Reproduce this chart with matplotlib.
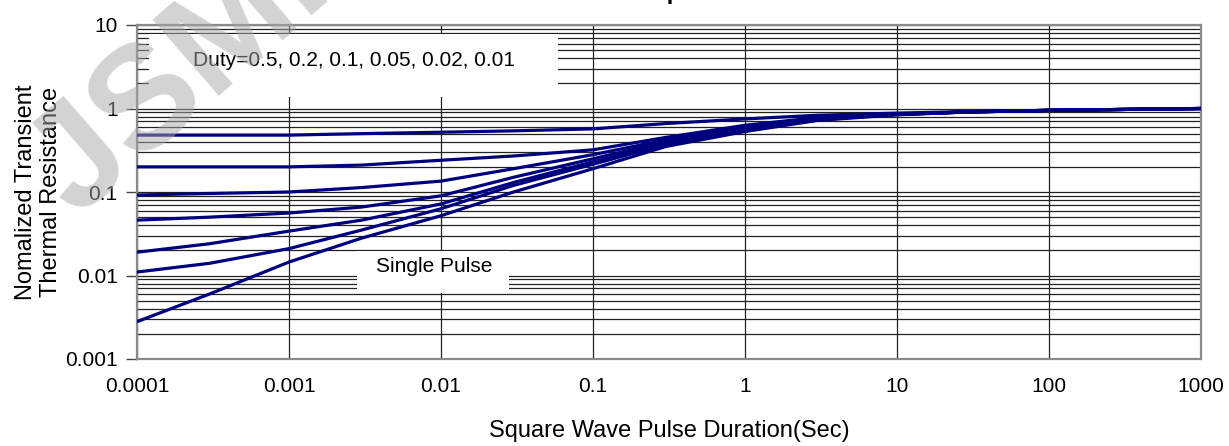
import matplotlib
matplotlib.use("Agg")
import matplotlib.pyplot as plt
from matplotlib.patches import Rectangle
import numpy as np

plt.rcParams['font.family'] = ['Liberation Sans', 'DejaVu Sans']

# pulse duration (s)
t = [1e-4, 3e-4, 1e-3, 3e-3, 1e-2, 3e-2, 0.1, 0.3, 1, 3, 10, 30, 100, 1000]

duty_05 = [0.48, 0.48, 0.48, 0.50, 0.52, 0.54, 0.57, 0.66, 0.75, 0.83, 0.88, 0.92, 0.95, 1.0]
duty_02 = [0.20, 0.20, 0.20, 0.21, 0.24, 0.27, 0.32, 0.45, 0.63, 0.78, 0.86, 0.91, 0.95, 1.0]
duty_01 = [0.092, 0.096, 0.10, 0.113, 0.135, 0.19, 0.28, 0.42, 0.60, 0.76, 0.86, 0.91, 0.95, 1.0]
duty_005 = [0.046, 0.050, 0.056, 0.066, 0.090, 0.15, 0.25, 0.40, 0.58, 0.75, 0.85, 0.91, 0.95, 1.0]
duty_002 = [0.019, 0.024, 0.034, 0.046, 0.072, 0.13, 0.23, 0.38, 0.56, 0.74, 0.85, 0.91, 0.95, 1.0]
duty_001 = [0.011, 0.014, 0.021, 0.035, 0.063, 0.12, 0.215, 0.37, 0.55, 0.73, 0.85, 0.91, 0.95, 1.0]
single = [0.0028, 0.0060, 0.0145, 0.028, 0.052, 0.10, 0.19, 0.35, 0.53, 0.72, 0.84, 0.91, 0.95, 1.0]

series = [duty_05, duty_02, duty_01, duty_005, duty_002, duty_001, single]

x_ticks = [1e-4, 1e-3, 1e-2, 1e-1, 1, 10, 100, 1000]
x_labels = ["0.0001", "0.001", "0.01", "0.1", "1", "10", "100", "1000"]
y_ticks = [1e-3, 1e-2, 1e-1, 1, 10]
y_labels = ["0.001", "0.01", "0.1", "1", "10"]

W, H = 1229, 446
fig = plt.figure(figsize=(W / 100, H / 100), dpi=100)
L, R, T, B = 137, 1201, 25, 359
ax = fig.add_axes([L / W, 1 - B / H, (R - L) / W, (B - T) / H])

for s in series:
    ax.plot(t, s, color='#00007f', lw=2.3, zorder=4, solid_capstyle='butt')

ax.set_xscale('log')
ax.set_yscale('log')
ax.set_xlim(1e-4, 1000)
ax.set_ylim(1e-3, 10)

ax.set_xticks(x_ticks)
ax.set_xticklabels(x_labels, fontsize=15)
ax.set_yticks(y_ticks)
ax.set_yticklabels(y_labels, fontsize=15)
ax.xaxis.set_minor_locator(matplotlib.ticker.NullLocator())
ax.yaxis.set_minor_locator(matplotlib.ticker.LogLocator(base=10, subs=np.arange(2, 10)))
ax.tick_params(axis='x', which='both', length=0, pad=13)
ax.tick_params(axis='y', which='major', length=8, width=1, color='#444444', pad=6)
ax.tick_params(axis='y', which='minor', length=0)

ax.grid(True, which='major', axis='both', color='#222222', lw=0.9)
ax.grid(True, which='minor', axis='y', color='#222222', lw=0.9)
ax.set_axisbelow(True)
for sp in ax.spines.values():
    sp.set_color('#8a8a8a')
    sp.set_linewidth(1.6)

ax.set_xlabel("Square Wave Pulse Duration(Sec)", fontsize=17, labelpad=17)
ax.set_ylabel("Nomalized Transient\nThermal Resistance", fontsize=17, labelpad=2, linespacing=1.18)

# white label boxes
def box(x0, x1, y0, y1):
    ax.add_patch(Rectangle(((x0 - L) / (R - L), (B - y1) / (B - T)),
                           (x1 - x0) / (R - L), (y1 - y0) / (B - T),
                           transform=ax.transAxes, facecolor='white',
                           edgecolor='none', zorder=3))

box(149, 558, 34, 97)
box(357, 509, 251, 293)
ax.text((354 - L) / (R - L), (B - 61) / (B - T), "Duty=0.5, 0.2, 0.1, 0.05, 0.02, 0.01",
        transform=ax.transAxes, ha='center', va='center', fontsize=15, zorder=5)
ax.text((434 - L) / (R - L), (B - 267) / (B - T), "Single Pulse",
        transform=ax.transAxes, ha='center', va='center', fontsize=15, zorder=5)

# title, mostly cut off at the top edge
fig.text(575 / W, 1 + 1 / H, "Transient Thermal Response", ha='center', va='baseline',
         fontsize=17, fontweight='bold')

# watermark
fig.text(76 / W, 1 - 218 / H, "JSMICRO", rotation=41, rotation_mode='anchor',
         fontsize=106, color='#a8a8a8', alpha=0.5, ha='left', va='baseline',
         fontweight='bold', zorder=10)

fig.savefig("out.png", dpi=100)
